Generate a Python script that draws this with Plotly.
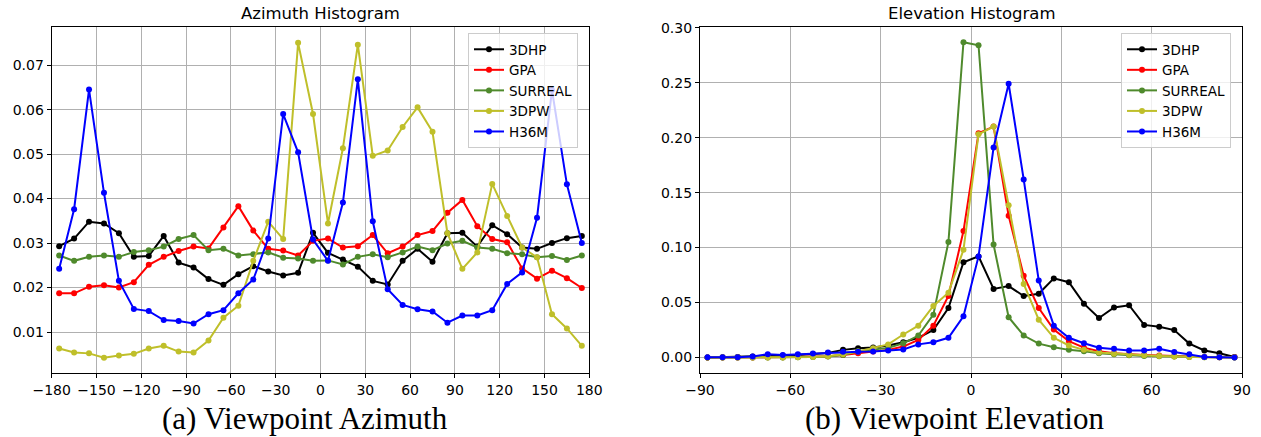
import plotly.graph_objects as go

# ---------------- data ----------------
series_names = ["3DHP", "GPA", "SURREAL", "3DPW", "H36M"]
series_colors = ["#000000", "#ff0000", "#4f8a2c", "#bfbf2a", "#0000ff"]

az_bins = [-175, -165, -155, -145, -135, -125, -115, -105, -95, -85, -75, -65,
           -55, -45, -35, -25, -15, -5, 5, 15, 25, 35, 45, 55,
           65, 75, 85, 95, 105, 115, 125, 135, 145, 155, 165, 175]

az_3dhp = [0.0293, 0.0310, 0.0348, 0.0344, 0.0322, 0.0269, 0.0271, 0.0316, 0.0256, 0.0245, 0.0219, 0.0206,
           0.0230, 0.0248, 0.0236, 0.0227, 0.0233, 0.0323, 0.0278, 0.0263, 0.0247, 0.0215, 0.0207, 0.0260,
           0.0287, 0.0258, 0.0322, 0.0323, 0.0292, 0.0340, 0.0320, 0.0290, 0.0287, 0.0300, 0.0311, 0.0316]
az_gpa = [0.0187, 0.0187, 0.0202, 0.0205, 0.0200, 0.0212, 0.0251, 0.0269, 0.0282, 0.0292, 0.0288, 0.0335,
          0.0383, 0.0328, 0.0287, 0.0283, 0.0272, 0.0305, 0.0310, 0.0290, 0.0293, 0.0318, 0.0277, 0.0292,
          0.0318, 0.0327, 0.0368, 0.0397, 0.0338, 0.0309, 0.0302, 0.0243, 0.0220, 0.0238, 0.0221, 0.0199]
az_surreal = [0.0272, 0.0260, 0.0269, 0.0272, 0.0269, 0.0280, 0.0284, 0.0292, 0.0309, 0.0318, 0.0284, 0.0287,
              0.0272, 0.0275, 0.0279, 0.0267, 0.0265, 0.0260, 0.0261, 0.0252, 0.0269, 0.0275, 0.0268, 0.0279,
              0.0292, 0.0284, 0.0299, 0.0305, 0.0290, 0.0287, 0.0277, 0.0275, 0.0268, 0.0271, 0.0262, 0.0272]
az_3dpw = [0.0063, 0.0054, 0.0052, 0.0042, 0.0047, 0.0051, 0.0063, 0.0069, 0.0056, 0.0054, 0.0081, 0.0132,
           0.0159, 0.0260, 0.0348, 0.0309, 0.0750, 0.0590, 0.0344, 0.0513, 0.0746, 0.0496, 0.0508, 0.0561,
           0.0605, 0.0550, 0.0322, 0.0242, 0.0279, 0.0433, 0.0361, 0.0290, 0.0268, 0.0140, 0.0108, 0.0069]
az_h36m = [0.0242, 0.0376, 0.0645, 0.0413, 0.0215, 0.0152, 0.0147, 0.0127, 0.0125, 0.0119, 0.0140, 0.0149,
           0.0187, 0.0218, 0.0310, 0.0590, 0.0504, 0.0308, 0.0260, 0.0391, 0.0668, 0.0349, 0.0196, 0.0161,
           0.0151, 0.0146, 0.0121, 0.0137, 0.0137, 0.0149, 0.0208, 0.0234, 0.0357, 0.0644, 0.0432, 0.0300]

el_bins = [-87.5, -82.5, -77.5, -72.5, -67.5, -62.5, -57.5, -52.5, -47.5, -42.5, -37.5, -32.5,
           -27.5, -22.5, -17.5, -12.5, -7.5, -2.5, 2.5, 7.5, 12.5, 17.5, 22.5, 27.5,
           32.5, 37.5, 42.5, 47.5, 52.5, 57.5, 62.5, 67.5, 72.5, 77.5, 82.5, 87.5]

el_3dhp = [0.0, 0.0003, 0.0006, 0.0009, 0.0012, 0.0018, 0.0024, 0.0033, 0.0042, 0.0070, 0.0085, 0.0092,
           0.0110, 0.0140, 0.0180, 0.0250, 0.0450, 0.0867, 0.0920, 0.0624, 0.0650, 0.0560, 0.0580, 0.0720,
           0.0685, 0.0490, 0.0360, 0.0455, 0.0476, 0.0297, 0.0280, 0.0250, 0.0127, 0.0064, 0.0040, 0.0006]
el_gpa = [0.0, 0.0, 0.0, 0.0, 0.0003, 0.0003, 0.0006, 0.0009, 0.0012, 0.0024, 0.0040, 0.0055,
          0.0070, 0.0100, 0.0160, 0.0290, 0.0560, 0.1150, 0.2040, 0.2100, 0.1290, 0.0745, 0.0450, 0.0255,
          0.0150, 0.0090, 0.0058, 0.0040, 0.0030, 0.0024, 0.0018, 0.0012, 0.0009, 0.0006, 0.0003, 0.0003]
el_surreal = [0.0, 0.0, 0.0, 0.0, 0.0, 0.0, 0.0003, 0.0006, 0.0009, 0.0024, 0.0058, 0.0073,
              0.0088, 0.0130, 0.0200, 0.0390, 0.1050, 0.2867, 0.2840, 0.1027, 0.0367, 0.0200, 0.0127, 0.0094,
              0.0070, 0.0058, 0.0040, 0.0030, 0.0021, 0.0015, 0.0012, 0.0009, 0.0006, 0.0003, 0.0003, 0.0]
el_3dpw = [0.0, 0.0, 0.0, 0.0, 0.0, 0.0, 0.0003, 0.0006, 0.0012, 0.0030, 0.0055, 0.0085,
           0.0120, 0.0210, 0.0290, 0.0470, 0.0590, 0.0980, 0.2030, 0.2100, 0.1385, 0.0670, 0.0345, 0.0180,
           0.0110, 0.0070, 0.0045, 0.0035, 0.0025, 0.0020, 0.0015, 0.0010, 0.0006, 0.0003, 0.0003, 0.0]
el_h36m = [0.0003, 0.0003, 0.0003, 0.0010, 0.0030, 0.0024, 0.0030, 0.0036, 0.0045, 0.0052, 0.0052, 0.0055,
           0.0064, 0.0073, 0.0120, 0.0140, 0.0180, 0.0376, 0.0920, 0.1910, 0.2490, 0.1620, 0.0700, 0.0290,
           0.0180, 0.0130, 0.0090, 0.0080, 0.0064, 0.0064, 0.0080, 0.0050, 0.0030, 0.0006, 0.0003, 0.0]

az_ticks = [-180, -150, -120, -90, -60, -30, 0, 30, 60, 90, 120, 150, 180]
el_ticks = [-90, -60, -30, 0, 30, 60, 90]
az_yticks = [0.01, 0.02, 0.03, 0.04, 0.05, 0.06, 0.07]
el_yticks = [0.00, 0.05, 0.10, 0.15, 0.20, 0.25, 0.30]

# ---------------- figure ----------------
W, H = 1261, 437
fig = go.Figure()

az_series = [az_3dhp, az_gpa, az_surreal, az_3dpw, az_h36m]
el_series = [el_3dhp, el_gpa, el_surreal, el_3dpw, el_h36m]

for name, col, ys in zip(series_names, series_colors, az_series):
    fig.add_trace(go.Scatter(x=az_bins, y=ys, name=name, mode="lines+markers",
                             line=dict(color=col, width=2), marker=dict(color=col, size=6),
                             xaxis="x", yaxis="y", legend="legend",
                             legendgroup="a" + name))
for name, col, ys in zip(series_names, series_colors, el_series):
    fig.add_trace(go.Scatter(x=el_bins, y=ys, name=name, mode="lines+markers",
                             line=dict(color=col, width=2), marker=dict(color=col, size=6),
                             xaxis="x2", yaxis="y2", legend="legend2",
                             legendgroup="e" + name))

tickfont = dict(family="DejaVu Sans", size=14, color="black")
common = dict(showgrid=True, gridcolor="#b0b0b0", gridwidth=1, zeroline=False,
              showline=True, linecolor="black", linewidth=1.2, mirror=True,
              ticks="outside", ticklen=4, tickwidth=1, tickcolor="black",
              tickfont=tickfont, automargin=False)

ytop, ybot = 27.3, 373.3
ydom = [(H - ybot) / H, (H - ytop) / H]
x1 = [51.7 / W, 589.3 / W]
x2 = [700.0 / W, 1242.0 / W]

legend_common = dict(bgcolor="rgba(255,255,255,0.8)", bordercolor="#cccccc", borderwidth=1,
                     font=dict(family="DejaVu Sans", size=13.5, color="black"),
                     xanchor="left", yanchor="top", itemwidth=30, tracegroupgap=0)

fig.update_layout(
    width=W, height=H, autosize=False,
    margin=dict(l=0, r=0, t=0, b=0, autoexpand=False),
    paper_bgcolor="white", plot_bgcolor="white",
    xaxis=dict(domain=x1, range=[-180, 180], tickvals=az_ticks, anchor="y", **common),
    yaxis=dict(domain=ydom, range=[0.00072, 0.0785], tickvals=az_yticks, tickformat=".2f",
               anchor="x", **common),
    xaxis2=dict(domain=x2, range=[-90, 90], tickvals=el_ticks, anchor="y2", **common),
    yaxis2=dict(domain=ydom, range=[-0.0143, 0.3003], tickvals=el_yticks, tickformat=".2f",
                anchor="x2", **common),
    legend=dict(x=468 / W, y=1 - 33 / H, **legend_common),
    legend2=dict(x=1121 / W, y=1 - 33 / H, **legend_common),
    showlegend=True,
)

title_font = dict(family="DejaVu Sans", size=16.5, color="black")
fig.add_annotation(text="Azimuth Histogram", x=(51.7 + 589.3) / 2 / W, y=1 - 13.5 / H,
                   xref="paper", yref="paper", showarrow=False, font=title_font,
                   xanchor="center", yanchor="middle")
fig.add_annotation(text="Elevation Histogram", x=(700 + 1242) / 2 / W, y=1 - 13.5 / H,
                   xref="paper", yref="paper", showarrow=False, font=title_font,
                   xanchor="center", yanchor="middle")

cap_font = dict(family="Liberation Serif", size=31, color="black")
fig.add_annotation(text="(a) Viewpoint Azimuth", x=305 / W, y=0.0,
                   xref="paper", yref="paper", showarrow=False, font=cap_font,
                   xanchor="center", yanchor="bottom", borderpad=0)
fig.add_annotation(text="(b) Viewpoint Elevation", x=954 / W, y=0.0,
                   xref="paper", yref="paper", showarrow=False, font=cap_font,
                   xanchor="center", yanchor="bottom", borderpad=0)

fig.write_html("out.html")
